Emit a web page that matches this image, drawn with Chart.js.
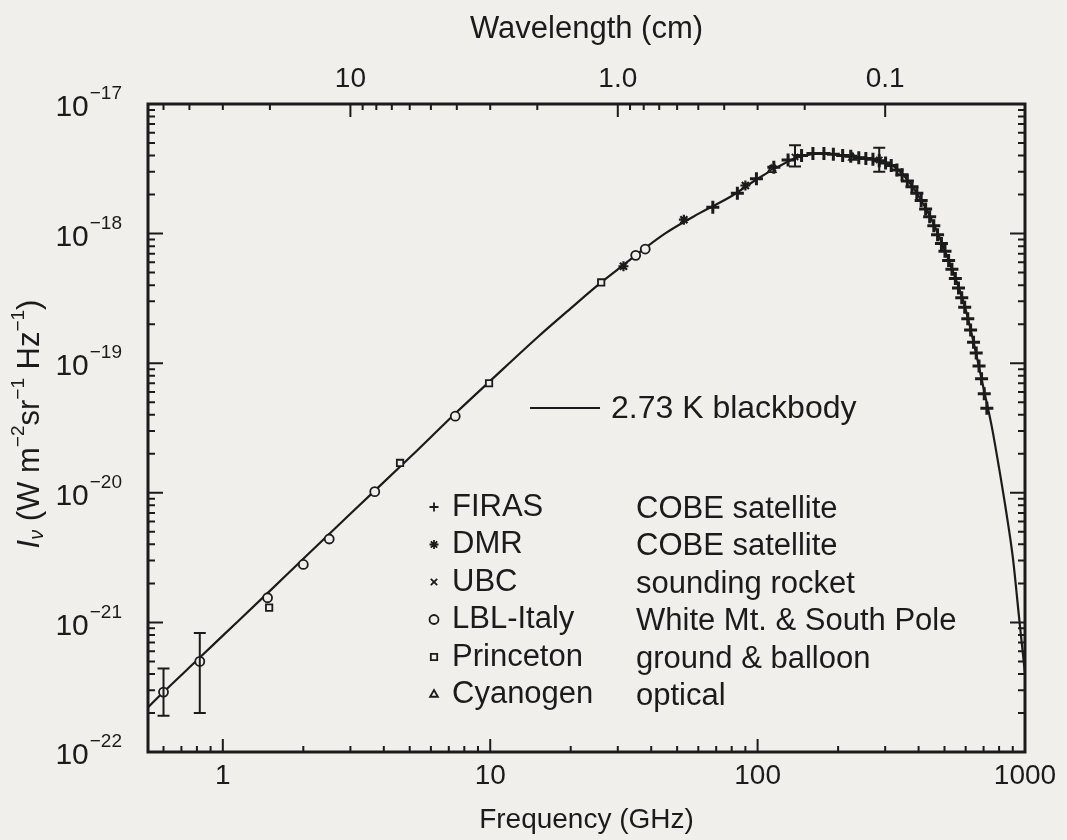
<!DOCTYPE html>
<html>
<head>
<meta charset="utf-8">
<script src="https://cdn.jsdelivr.net/npm/chart.js@4.4.1/dist/chart.umd.min.js"></script>
<style>
  html, body { margin: 0; padding: 0; background: #f0efeb; }
  #wrap { position: relative; width: 1067px; height: 840px; }
</style>
</head>
<body>
<div id="wrap"><canvas id="cmbChart"></canvas></div>
<script>
// Frequencies in GHz, intensities in W m^-2 sr^-1 Hz^-1

const curveFreq = [0.5, 0.6, 0.8, 1, 1.5, 2, 3, 5, 7.5, 10, 15, 20, 26, 30, 35, 45, 60, 80, 100, 120, 140, 160,
    180, 200, 230, 260, 290, 320, 350, 400, 450, 500, 550, 600, 650, 700, 750, 800, 850, 900, 950, 1000];
const curveIntensity = [2.0e-22, 2.9e-22, 5.1e-22, 7.9e-22, 1.75e-21, 3.1e-21, 6.9e-21, 1.87e-20, 4.2e-20, 7.3e-20,
    1.58e-19, 2.65e-19, 4.2e-19, 5.3e-19, 6.8e-19, 1.0e-18, 1.42e-18, 1.95e-18, 2.65e-18, 3.3e-18, 3.85e-18, 4.1e-18,
    4.15e-18, 4.05e-18, 3.9e-18, 3.8e-18, 3.65e-18, 3.35e-18, 2.85e-18, 1.95e-18, 1.25e-18, 7.5e-19,
    4.5e-19, 2.6e-19, 1.3e-19, 6.4e-20, 3.3e-20, 1.55e-20, 7.2e-21, 3.2e-21, 1.1e-21, 4.0e-22];

const firasFreq = [68, 84, 99, 115, 130, 146, 161, 177, 192, 208, 223, 239, 254, 270, 285, 301, 316, 332,
    347, 363, 378, 394, 409, 425, 440, 456, 471, 487, 502, 518, 533, 549, 564, 580, 595, 611, 626, 642,
    657, 673, 688, 704, 720];
const firasIntensity = [1.6e-18, 2.05e-18, 2.65e-18, 3.25e-18, 3.7e-18, 4.0e-18, 4.15e-18, 4.15e-18, 4.1e-18,
    4.0e-18, 3.95e-18, 3.85e-18, 3.8e-18, 3.75e-18, 3.65e-18, 3.5e-18, 3.35e-18, 3.1e-18, 2.85e-18, 2.55e-18,
    2.3e-18, 2.05e-18, 1.8e-18, 1.55e-18, 1.35e-18, 1.15e-18, 9.8e-19, 8.4e-19, 7.3e-19, 6.2e-19, 5.3e-19,
    4.5e-19, 3.8e-19, 3.2e-19, 2.7e-19, 2.2e-19, 1.8e-19, 1.45e-19, 1.2e-19, 9.5e-20, 7.6e-20, 5.8e-20, 4.5e-20];

const dmrFreq = [31.5, 53, 90];
const dmrIntensity = [5.6e-19, 1.28e-18, 2.35e-18];

const ubcFreq = [114, 138, 285];
const ubcIntensity = [3.2e-18, 3.9e-18, 3.7e-18];
const ubcErrLow = [null, 3.3e-18, 3.0e-18];
const ubcErrHigh = [null, 4.8e-18, 4.6e-18];

const lblFreq = [0.6, 0.82, 1.47, 2.0, 2.5, 3.7, 7.4, 35, 38];
const lblIntensity = [2.9e-22, 5.0e-22, 1.55e-21, 2.8e-21, 4.4e-21, 1.02e-20, 3.9e-20, 6.8e-19, 7.6e-19];
const lblErrLow = [1.9e-22, 2.0e-22, null, null, null, null, null, null, null];
const lblErrHigh = [4.4e-22, 8.3e-22, null, null, null, null, null, null, null];

const princetonFreq = [1.49, 4.6, 9.9, 26];
const princetonIntensity = [1.3e-21, 1.7e-20, 7.0e-20, 4.2e-19];

const cyanogenFreq = [113, 227];
const cyanogenIntensity = [3.1e-18, 3.85e-18];

const seriesNames = ['FIRAS', 'DMR', 'UBC', 'LBL-Italy', 'Princeton', 'Cyanogen'];
const seriesNotes = ['COBE satellite', 'COBE satellite', 'sounding rocket', 'White Mt. & South Pole',
    'ground & balloon', 'optical'];
const curveLabel = '2.73 K blackbody';

const freqLabels = [1, 10, 100, 1000];
const intensityExponents = [-22, -21, -20, -19, -18, -17];
const wavelengthMajor = [10, 1, 0.1];            // cm
const wavelengthLabels = ['10', '1.0', '0.1'];
const wavelengthMinor = [50, 40, 30, 20, 9, 8, 7, 6, 5, 4, 3, 2, 0.9, 0.8, 0.7, 0.6, 0.5, 0.4, 0.3, 0.2];

const INK = '#1b1b1b';
const PAPER = '#f0efeb';
const FONT = "'Liberation Sans', Arial, Helvetica, sans-serif";
const X_MIN = 0.525, X_MAX = 1000;

function pts(xs, ys) {
    return xs.map((x, i) => ({ x: x, y: ys[i] }));
}

// 1..9 x 10^e ticks inside [lo, hi]
function decadeTicks(lo, hi, majors) {
    const out = [];
    for (let e = Math.floor(Math.log10(lo)); e <= Math.ceil(Math.log10(hi)); e++) {
        for (let k = 1; k <= 9; k++) {
            const v = Number(k + 'e' + e);
            if (v >= lo * 0.999 && v <= hi * 1.001) {
                out.push({ value: v, major: k === 1 && majors.includes(e) });
            }
        }
    }
    return out;
}

const paperPlugin = {
    id: 'paper',
    beforeDraw(chart) {
        const ctx = chart.ctx;
        ctx.save();
        ctx.fillStyle = PAPER;
        ctx.fillRect(0, 0, chart.width, chart.height);
        ctx.restore();
    }
};

// box round the plot with ticks pointing inward, plus 10^n labels with real superscripts
const framePlugin = {
    id: 'frame',
    afterDatasetsDraw(chart) {
        const { ctx, chartArea: a, scales } = chart;
        ctx.save();
        ctx.strokeStyle = INK;
        ctx.lineWidth = 2;
        ctx.beginPath();
        scales.x.ticks.forEach(t => {
            const px = scales.x.getPixelForValue(t.value);
            const len = t.major ? 13 : 6;
            ctx.moveTo(px, a.bottom); ctx.lineTo(px, a.bottom - len);
        });
        scales.xTop.ticks.forEach(t => {
            const px = scales.xTop.getPixelForValue(t.value);
            const len = t.major ? 13 : 6;
            ctx.moveTo(px, a.top); ctx.lineTo(px, a.top + len);
        });
        scales.y.ticks.forEach(t => {
            const py = scales.y.getPixelForValue(t.value);
            const len = t.major ? 15 : 7;
            ctx.moveTo(a.left, py); ctx.lineTo(a.left + len, py);
            ctx.moveTo(a.right, py); ctx.lineTo(a.right - len, py);
        });
        ctx.stroke();
        ctx.lineWidth = 3;
        ctx.strokeRect(a.left, a.top, a.right - a.left, a.bottom - a.top);

        ctx.fillStyle = INK;
        ctx.textBaseline = 'middle';
        ctx.textAlign = 'left';
        const right = a.left - 26;
        scales.y.ticks.filter(t => t.major).forEach(t => {
            const py = scales.y.getPixelForValue(t.value);
            const exp = '\u2212' + String(Math.abs(Math.round(Math.log10(t.value))));
            ctx.font = '19px ' + FONT;
            const wExp = ctx.measureText(exp).width;
            ctx.fillText(exp, right - wExp, py - 10);
            ctx.font = '30px ' + FONT;
            const wBase = ctx.measureText('10').width;
            ctx.fillText('10', right - wExp - wBase - 1, py + 4);
        });
        ctx.restore();
    }
};

// rotated y title: italic I, subscript nu, superscript units
const yTitlePlugin = {
    id: 'yTitle',
    afterDraw(chart) {
        const ctx = chart.ctx;
        const runs = [
            { t: 'I', f: 'italic 31px ', dy: 0 },
            { t: '\u03BD', f: 'italic 20px ', dy: 7 },
            { t: ' (W m', f: '31px ', dy: 0 },
            { t: '\u22122', f: '19px ', dy: -11 },
            { t: 'sr', f: '31px ', dy: 0 },
            { t: '\u22121', f: '19px ', dy: -11 },
            { t: ' Hz', f: '31px ', dy: 0 },
            { t: '\u22121', f: '19px ', dy: -11 },
            { t: ')', f: '31px ', dy: 0 }
        ];
        ctx.save();
        ctx.fillStyle = INK;
        ctx.textBaseline = 'middle';
        let total = 0;
        runs.forEach(r => { ctx.font = r.f + FONT; r.w = ctx.measureText(r.t).width; total += r.w; });
        ctx.translate(30, 424);
        ctx.rotate(-Math.PI / 2);
        let x = -total / 2;
        runs.forEach(r => {
            ctx.font = r.f + FONT;
            ctx.fillText(r.t, x, r.dy);
            x += r.w;
        });
        ctx.restore();
    }
};

const errorBarPlugin = {
    id: 'errorBars',
    afterDatasetsDraw(chart) {
        const { ctx, scales } = chart;
        ctx.save();
        ctx.strokeStyle = INK;
        ctx.lineWidth = 2;
        chart.data.datasets.forEach(ds => {
            if (!ds.errLow) return;
            ds.data.forEach((p, i) => {
                if (ds.errLow[i] == null) return;
                const x = scales.x.getPixelForValue(p.x);
                const y1 = scales.y.getPixelForValue(ds.errLow[i]);
                const y2 = scales.y.getPixelForValue(ds.errHigh[i]);
                ctx.beginPath();
                ctx.moveTo(x, y1); ctx.lineTo(x, y2);
                ctx.moveTo(x - 6, y1); ctx.lineTo(x + 6, y1);
                ctx.moveTo(x - 6, y2); ctx.lineTo(x + 6, y2);
                ctx.stroke();
            });
        });
        ctx.restore();
    }
};

// the key inside the plot: blackbody line sample plus the instrument table
const keyPlugin = {
    id: 'key',
    afterDraw(chart) {
        const ctx = chart.ctx;
        ctx.save();
        ctx.fillStyle = INK;
        ctx.strokeStyle = INK;
        ctx.font = '32px ' + FONT;
        ctx.textBaseline = 'middle';

        ctx.lineWidth = 2;
        ctx.beginPath();
        ctx.moveTo(530, 408); ctx.lineTo(600, 408);
        ctx.stroke();
        ctx.fillText(curveLabel, 611, 409);

        ctx.font = '31px ' + FONT;
        const markerSets = chart.data.datasets.filter(ds => ds.keyIndex != null);
        seriesNames.forEach((name, i) => {
            const y = 507 + i * 37.5;
            const ds = markerSets.find(d => d.keyIndex === i);
            ctx.fillStyle = ds.pointBackgroundColor;
            ctx.lineWidth = 1.8;
            Chart.helpers.drawPoint(ctx, {
                pointStyle: ds.pointStyle, radius: 4.5, borderWidth: 1.8, rotation: 0
            }, 434, y);
            ctx.fillStyle = INK;
            ctx.fillText(name, 452, y);
            ctx.fillText(seriesNotes[i], 636, y + 2);
        });
        ctx.restore();
    }
};

function markerSet(idx, xs, ys, style, radius, extra) {
    return Object.assign({
        label: seriesNames[idx],
        keyIndex: idx,
        data: pts(xs, ys),
        pointStyle: style,
        pointRadius: radius,
        pointBorderWidth: 1.8,
        pointBorderColor: INK,
        pointBackgroundColor: PAPER,
        showLine: false
    }, extra || {});
}

const datasets = [
    markerSet(0, firasFreq, firasIntensity, 'cross', 6.5, { pointBorderWidth: 3 }),
    markerSet(1, dmrFreq, dmrIntensity, 'star', 5, { pointBorderWidth: 2.2 }),
    markerSet(2, ubcFreq, ubcIntensity, 'crossRot', 4.5, { errLow: ubcErrLow, errHigh: ubcErrHigh }),
    markerSet(3, lblFreq, lblIntensity, 'circle', 4.5, { errLow: lblErrLow, errHigh: lblErrHigh }),
    markerSet(4, princetonFreq, princetonIntensity, 'rect', 4.5),
    markerSet(5, cyanogenFreq, cyanogenIntensity, 'triangle', 4.5),
    {
        type: 'line',
        label: curveLabel,
        data: pts(curveFreq, curveIntensity),
        borderColor: INK,
        borderWidth: 2.2,
        pointRadius: 0,
        fill: false,
        cubicInterpolationMode: 'monotone'
    }
];

Chart.defaults.font.family = FONT;
Chart.defaults.color = INK;

new Chart(document.getElementById('cmbChart'), {
    type: 'scatter',
    data: { datasets: datasets },
    options: {
        responsive: true,
        maintainAspectRatio: false,
        animation: false,
        layout: { padding: { top: 0, right: 42, bottom: 0, left: 0 } },
        plugins: { legend: { display: false }, tooltip: { enabled: false } },
        scales: {
            x: {
                type: 'logarithmic',
                position: 'bottom',
                min: X_MIN,
                max: X_MAX,
                afterBuildTicks: s => { s.ticks = decadeTicks(X_MIN, X_MAX, freqLabels.map(v => Math.round(Math.log10(v)))); },
                afterFit: s => { s.height = 88; },
                grid: { display: false, drawTicks: false },
                border: { display: false },
                ticks: {
                    autoSkip: false, maxRotation: 0, padding: 7, font: { size: 28 },
                    callback: (v, i, ticks) => ticks[i].major ? String(freqLabels.find(f => Math.abs(f - v) < 1e-6 * f)) : ''
                },
                title: { display: true, text: 'Frequency (GHz)', font: { size: 28 }, padding: { top: 0, bottom: 3 } }
            },
            xTop: {
                type: 'logarithmic',
                position: 'top',
                min: X_MIN,
                max: X_MAX,
                afterBuildTicks: s => {
                    const major = wavelengthMajor.map((w, i) => ({ value: 30 / w, major: true, text: wavelengthLabels[i] }));
                    const minor = wavelengthMinor.map(w => ({ value: 30 / w, major: false, text: '' }));
                    s.ticks = major.concat(minor).filter(t => t.value >= X_MIN && t.value <= X_MAX)
                        .sort((a, b) => a.value - b.value);
                },
                afterFit: s => { s.height = 104; },
                grid: { display: false, drawTicks: false },
                border: { display: false },
                ticks: {
                    autoSkip: false, maxRotation: 0, padding: 8, font: { size: 28 },
                    callback: (v, i, ticks) => ticks[i].text
                },
                title: { display: true, text: 'Wavelength (cm)', font: { size: 31 }, padding: { top: 11, bottom: 0 } }
            },
            y: {
                type: 'logarithmic',
                min: 1e-22,
                max: 1e-17,
                afterBuildTicks: s => { s.ticks = decadeTicks(1e-22, 1e-17, intensityExponents); },
                afterFit: s => { s.width = 148; },
                grid: { display: false, drawTicks: false },
                border: { display: false },
                ticks: { display: false, autoSkip: false },
                title: { display: false }
            }
        }
    },
    plugins: [paperPlugin, framePlugin, errorBarPlugin, keyPlugin, yTitlePlugin]
});
</script>
</body>
</html>
